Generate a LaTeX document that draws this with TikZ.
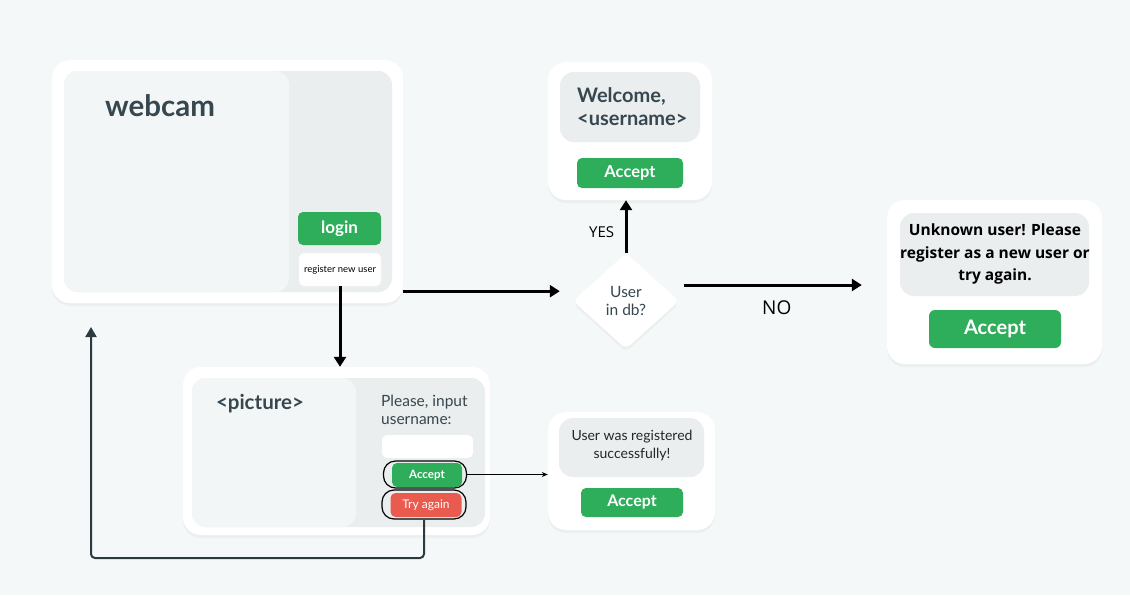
\documentclass[tikz,border=0pt]{standalone}
\usepackage{fontspec}
\setmainfont{Lato}
\newfontfamily\osans{Open Sans}
\usetikzlibrary{shapes.geometric,arrows.meta,shadows}
\definecolor{bgclr}{HTML}{F5F8F8}
\definecolor{paneclr}{HTML}{EAEEEE}
\definecolor{viewclr}{HTML}{F3F6F6}
\definecolor{okgreen}{HTML}{2EAD5B}
\definecolor{tryred}{HTML}{E95A4F}
\definecolor{ink}{HTML}{37474F}
\newcommand{\fs}[2]{\fontsize{#1}{#2}\selectfont}
\tikzset{sz/.style 2 args={minimum width=#1pt,minimum height=#2pt},
 panel/.style={fill=white,rounded corners=18pt,inner sep=0pt,drop shadow={shadow xshift=0pt,shadow yshift=-3pt,opacity=.07}},
 pane/.style={fill=paneclr,rounded corners=14pt,inner sep=0pt},
 view/.style={fill=viewclr,rounded corners=14pt,inner sep=0pt},
 btn/.style={fill=okgreen,rounded corners=5pt,inner sep=0pt,text=white,font=\bfseries},
 redbtn/.style={btn,fill=tryred,font=\normalfont},
 ring/.style={draw=black,line width=1.2pt,rounded corners=12pt,inner sep=0pt},
 field/.style={fill=white,rounded corners=5pt,inner sep=0pt},
 decide/.style={draw=none,fill=white,diamond,inner sep=0pt,rounded corners=6pt,drop shadow={shadow xshift=0pt,shadow yshift=-3pt,opacity=.07}},
 label/.style={text=ink,inner sep=0pt},
 flowline/.style={line width=3pt,-{Triangle[length=10pt,width=12pt]}},
 thinline/.style={line width=1.2pt,-{Stealth[length=6pt,width=5pt]}},
 backline/.style={line width=2pt,draw=ink!80!black,rounded corners=4pt,-{Triangle[length=10pt,width=11pt]}}}
\newcommand{\flow}[2]{\draw[flowline](#1)--(#2);}
\begin{document}
\begin{tikzpicture}[x=1pt,y=-1pt]
\fill[bgclr](0,0)rectangle(1130,595);
\useasboundingbox(0,0)rectangle(1130,595);
% webcam screen
\node[panel,sz={351}{243}](cam) at(227.5,181.5){};
\node[pane,sz={328}{221}](campane) at(228,181.5){};
\node[view,sz={225}{221}](camview) at(176.5,181.5){};
\node[label,font=\bfseries\fs{29.5}{32}](camlbl) at(160,106){webcam};
\node[btn,sz={83}{33},font=\bfseries\fs{17}{20}](login) at(339.5,228.5){login};
\node[field,sz={82}{33},font=\fs{9.5}{11}](reg) at(340,269.5){register new user};
% register screen
\node[panel,sz={307}{168}](pic) at(336.5,451){};
\node[pane,sz={293}{149}](picpane) at(338.5,452.5){};
\node[view,sz={164}{149}](picview) at(274,452.5){};
\node[label,font=\bfseries\fs{20.5}{24}](piclbl) at(260,404){<picture>};
\node[label,anchor=west,align=left,font=\fs{15.5}{18.5}](ask) at(381,410){Please, input\\username:};
\node[field,sz={91}{23}](name) at(427.5,446.5){};
\node[ring,sz={83}{27}](accring) at(425,474.5){};
\node[btn,sz={70}{24},font=\bfseries\fs{11.5}{13}](acc) at(427,475){Accept};
\node[ring,sz={84}{29}](tryring) at(424,504.5){};
\node[redbtn,sz={71}{24},font=\fs{12}{14}](try) at(426,505){Try again};
% check
\node[decide,sz={106}{96},align=center,text=ink,font=\fs{15.5}{18.5}](q) at(626,301){User\\in db?};
% welcome
\node[panel,sz={164}{138}](hi) at(630,131){};
\node[pane,sz={140}{70}](hipane) at(630,107){};
\node[label,anchor=west,align=left,font=\bfseries\fs{20}{23}](hilbl) at(577,107){Welcome,\\<username>};
\node[btn,sz={106}{30},font=\bfseries\fs{16.5}{19}](hiacc) at(630,173){Accept};
% unknown user
\node[panel,sz={215}{164}](unk) at(994.5,282){};
\node[pane,sz={189}{83}](unkpane) at(994.5,254.5){};
\node[align=center,inner sep=0pt,font=\osans\bfseries\fs{15.5}{22.5}](unklbl) at(995,254){Unknown user! Please\\register as a new user or\\try again.};
\node[btn,sz={132}{38},rounded corners=6pt,font=\bfseries\fs{20}{24}](unkacc) at(995,329){Accept};
% registered
\node[panel,sz={167}{118}](ok) at(631.5,471){};
\node[pane,sz={145}{59}](okpane) at(631.5,447.5){};
\node[align=center,inner sep=0pt,text=black!85,font=\fs{14}{18}](oklbl) at(632,446){User was registered\\successfully!};
\node[btn,sz={102}{29},font=\bfseries\fs{16}{19}](okacc) at(632,502.5){Accept};
% connectors
\coordinate(turn) at(91,558);\coordinate(backtip) at(91,327);
\draw[flowline](reg.south)--(reg.south|-pic.north);
\draw[flowline,shorten >=13pt]([yshift=12pt]cam.south east)--([yshift=12pt]cam.south east-|q.west);
\draw[flowline](q.north)--node[pos=.4,left=7pt,font=\osans\fs{15}{17}]{YES}(q.north|-hi.south);
\draw[flowline,shorten >=25pt,shorten <=5pt]([yshift=16pt]q.east)--node[pos=.47,below=11pt,font=\osans\fs{19}{22}]{NO}([yshift=16pt]q.east-|unk.west);
\draw[thinline](accring.east)--(accring.east-|ok.west);
\draw[backline](tryring.south)|-(turn)--(backtip);
\end{tikzpicture}
\end{document}
